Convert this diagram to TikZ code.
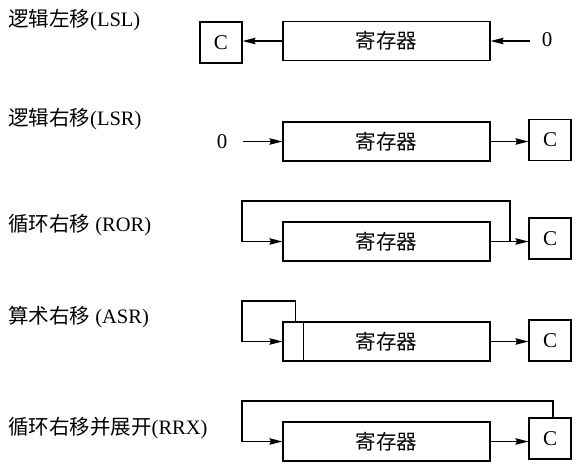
\documentclass[tikz,border=0pt]{standalone}
\usepackage{fontspec}
\setmainfont{Liberation Serif}
\newfontfamily\cjk{Noto Sans CJK SC}
\usetikzlibrary{arrows.meta}
\begin{document}
\begin{tikzpicture}[x=1pt,y=-1pt,
  reg/.style={draw, line width=1.1pt, minimum width=207pt, minimum height=39pt, inner sep=0pt, font=\fontsize{20.5}{24}\selectfont\cjk},
  cbox/.style={draw, line width=1.1pt, minimum width=42pt, minimum height=41pt, inner sep=0pt, font=\fontsize{21}{24}\selectfont},
  lbl/.style={anchor=west, inner sep=0pt, font=\fontsize{20.5}{24}\selectfont},
  zero/.style={inner sep=0pt, font=\fontsize{21}{24}\selectfont},
  arr/.style={line width=1.1pt, -{Stealth[length=13pt,width=6.5pt,inset=1.5pt]}},
  ln/.style={line width=1.1pt}]
\useasboundingbox (0,0) rectangle (579,464);
% Row 1: LSL
\node[lbl] (l1) at (8,20) {{\cjk 逻辑左移}(LSL)};
\node[reg] (r1) at (386.5,41) {寄存器};
\node[cbox] (c1) at (221,42.5) {C};
\node[zero] (z1) at (547,40) {0};
\coordinate (t1) at (530,41);
\draw[arr] (t1) -- (r1.east);
\draw[arr] (r1.west) -- (r1.west -| c1.east);
% Row 2: LSR
\node[lbl] (l2) at (8,119) {{\cjk 逻辑右移}(LSR)};
\node[reg] (r2) at (386.5,141.5) {寄存器};
\node[cbox] (c2) at (550,140) {C};
\node[zero] (z2) at (222,142) {0};
\coordinate (t2) at (243,141.5);
\draw[arr] (t2) -- (r2.west);
\draw[arr] (r2.east) -- (r2.east -| c2.west);
% Row 3: ROR
\node[lbl] (l3) at (8,225) {{\cjk 循环右移} (ROR)};
\node[reg] (r3) at (386.5,241.5) {寄存器};
\node[cbox] (c3) at (550,238.5) {C};
\draw[arr] (r3.east) -- (r3.east -| c3.west);
\coordinate (s3) at (510,241.5);
\coordinate (k3) at (242,201);
\draw[arr] (s3) |- (k3) |- (r3.west);
% Row 4: ASR
\node[lbl] (l4) at (8,317) {{\cjk 算术右移} (ASR)};
\node[reg] (r4) at (386.5,341.5) {寄存器};
\node[cbox] (c4) at (550,340.5) {C};
\draw[arr] (r4.east) -- (r4.east -| c4.west);
\draw[ln] ([xshift=21pt]r4.north west) -- ([xshift=21pt]r4.south west);
\coordinate (k4) at (242,301);
\draw[arr] ([xshift=13pt]r4.north west) |- (k4) |- (r4.west);
% Row 5: RRX
\node[lbl] (l5) at (8,428) {{\cjk 循环右移并展开}(RRX)};
\node[reg] (r5) at (386.5,441.5) {寄存器};
\node[cbox] (c5) at (550,438.5) {C};
\draw[arr] (r5.east) -- (r5.east -| c5.west);
\coordinate (k5) at (242,401);
\draw[arr] ([xshift=3pt]c5.north) |- (k5) |- (r5.west);
\end{tikzpicture}
\end{document}
